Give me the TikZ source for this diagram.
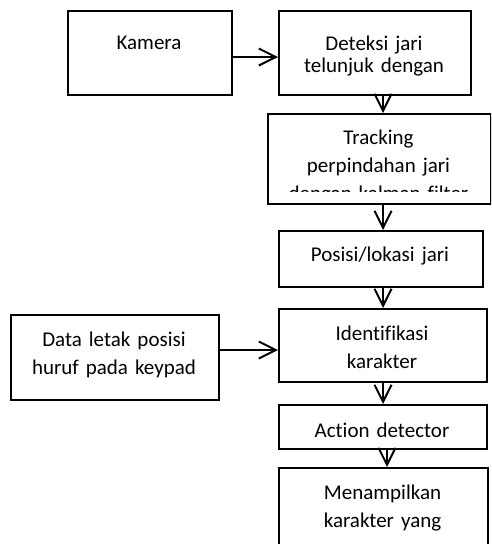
\documentclass[tikz,border=0pt]{standalone}
\usepackage{fontspec}
\setmainfont{Carlito}[Ligatures={NoCommon,NoRare,NoDiscretionary,NoContextual}]
\usetikzlibrary{arrows.meta}
\begin{document}
\begin{tikzpicture}[x=1pt,y=-1pt,
  box/.style={draw=black, line width=2pt, fill=white, inner sep=0pt, anchor=north west},
  txt/.style={anchor=base, align=center, inner sep=0pt, font=\fontsize{21}{28}\selectfont},
  arr/.style={line width=2pt, -{Straight Barb[length=17pt,width=17pt]}}]
\useasboundingbox (0,0) rectangle (491,544);
\clip (0,0) rectangle (491,544);
% boxes
\node[box, minimum width=164pt, minimum height=84pt] (kam) at (67,10) {};
\node[box, minimum width=192pt, minimum height=84pt] (det) at (278,10) {};
\node[box, minimum width=223pt, minimum height=90pt] (trk) at (267,113) {};
\node[box, minimum width=204pt, minimum height=56pt] (pos) at (278,230) {};
\node[box, minimum width=208pt, minimum height=73pt] (idf) at (278,308) {};
\node[box, minimum width=208pt, minimum height=85pt] (dat) at (10,314) {};
\node[box, minimum width=208pt, minimum height=44pt] (act) at (278,404) {};
\node[box, minimum width=209pt, minimum height=120pt] (men) at (278,467) {};
% texts
\node[txt, text width=164pt] (tkam) at (149,49) {Kamera};
\node[txt, text width=192pt, font=\fontsize{21}{22}\selectfont] (tdet) at (374,50) {Deteksi jari\\telunjuk dengan};
\begin{scope}
  \clip (267,113) rectangle (490,191.5);
  \node[txt, text width=223pt] (ttrk) at (378.5,144) {Tracking\\perpindahan jari\\dengan kalman filter};
\end{scope}
\node[txt, text width=204pt] (tpos) at (380,261) {Posisi/lokasi jari};
\node[txt, text width=208pt] (tidf) at (382,340) {Identifikasi\\karakter};
\node[txt, text width=208pt] (tdat) at (114,346) {Data letak posisi\\huruf pada keypad};
\node[txt, text width=208pt] (tact) at (382,437) {Action detector};
\node[txt, text width=209pt] (tmen) at (382.5,499) {Menampilkan\\karakter yang};
% connector guides
\coordinate (ax) at (383,0);
\coordinate (ax2) at (387,0);
\coordinate (ay1) at (0,57);
\coordinate (ay2) at (0,350);
% connectors
\draw[arr] (kam.east |- ay1) -- (det.west |- ay1);
\draw[arr] (det.south -| ax) -- (trk.north -| ax);
\draw[arr] (trk.south -| ax) -- (pos.north -| ax);
\draw[arr] (pos.south -| ax) -- (idf.north -| ax);
\draw[arr] (idf.south -| ax) -- (act.north -| ax);
\draw[arr] (act.south -| ax2) -- (men.north -| ax2);
\draw[arr] (dat.east |- ay2) -- (idf.west |- ay2);
\end{tikzpicture}
\end{document}
